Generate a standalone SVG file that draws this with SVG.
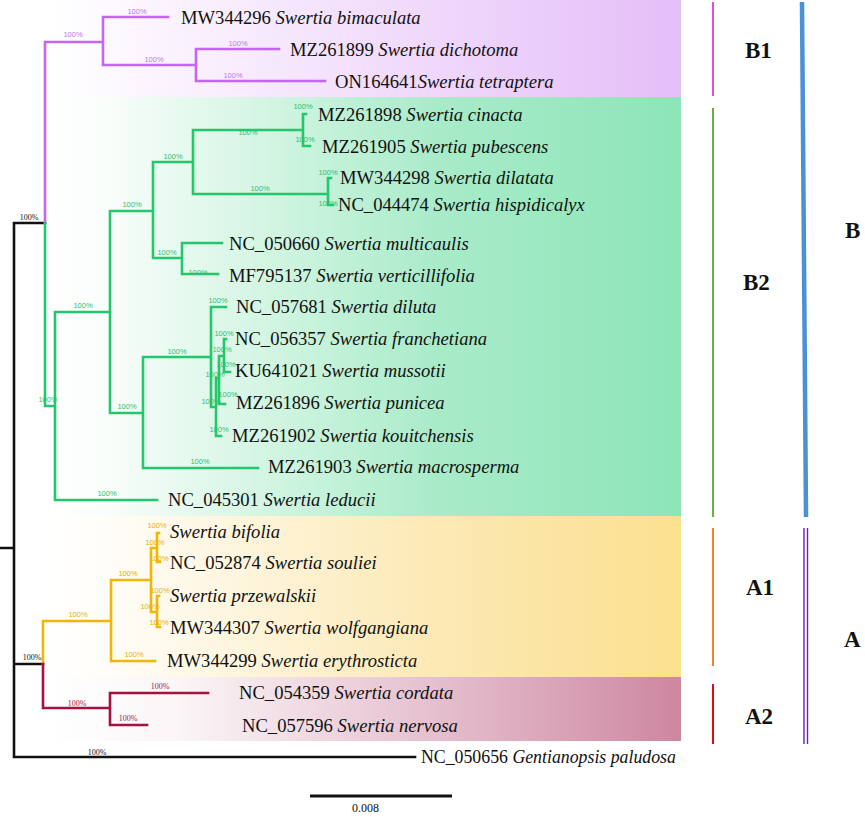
<svg xmlns="http://www.w3.org/2000/svg" width="865" height="817" viewBox="0 0 865 817">
<defs>
<linearGradient id="gB1" x1="48" y1="0" x2="681" y2="0" gradientUnits="userSpaceOnUse"><stop offset="0" stop-color="#ffffff"/><stop offset="0.1" stop-color="#fdf9ff"/><stop offset="0.6" stop-color="#f0d8fb"/><stop offset="1" stop-color="#e4bef8"/></linearGradient>
<linearGradient id="gB2" x1="48" y1="0" x2="681" y2="0" gradientUnits="userSpaceOnUse"><stop offset="0" stop-color="#ffffff"/><stop offset="0.1" stop-color="#f8fdfa"/><stop offset="0.35" stop-color="#d2f5e2"/><stop offset="0.62" stop-color="#a8ebc9"/><stop offset="1" stop-color="#8de5b7"/></linearGradient>
<linearGradient id="gA1" x1="48" y1="0" x2="681" y2="0" gradientUnits="userSpaceOnUse"><stop offset="0" stop-color="#ffffff"/><stop offset="0.1" stop-color="#fffdf7"/><stop offset="0.6" stop-color="#fce9b6"/><stop offset="1" stop-color="#fbe08f"/></linearGradient>
<linearGradient id="gA2" x1="48" y1="0" x2="681" y2="0" gradientUnits="userSpaceOnUse"><stop offset="0" stop-color="#ffffff"/><stop offset="0.2" stop-color="#fbf6f8"/><stop offset="0.6" stop-color="#e6c1d0"/><stop offset="1" stop-color="#cd87a0"/></linearGradient>
</defs>
<style>
.tx{font-family:"Liberation Serif","Times New Roman",serif;font-size:18.6px;fill:#111}
.it{font-style:italic}
.bs{font-family:"Liberation Sans",Arial,sans-serif;font-size:7.5px;text-anchor:middle}
.bk{font-family:"Liberation Serif",serif;font-size:8px;text-anchor:middle;fill:#111}
.cl{font-family:"Liberation Serif","Times New Roman",serif;font-size:23px;font-weight:bold;fill:#111}
.br{fill:none;stroke-width:2.6;stroke-linecap:square}
.pu{stroke:#c466ee}.gr{stroke:#22c86b}.go{stroke:#f2b705}.mr{stroke:#a3133f}.bl{stroke:#111}
.lpu{fill:#b878e6}.lgr{fill:#2cc070}.lgo{fill:#e9b000}.lmr{fill:#a3133f}
</style>
<rect width="865" height="817" fill="#ffffff"/>
<g id="backgrounds">
<rect x="48" y="0" width="633" height="97" fill="url(#gB1)"/>
<rect x="48" y="97" width="633" height="419" fill="url(#gB2)"/>
<rect x="48" y="516" width="633" height="161" fill="url(#gA1)"/>
<rect x="48" y="677" width="633" height="64" fill="url(#gA2)"/>
</g>
<g id="connectors">
<path class="br bl" d="M0,548H14M14,223V757M14,223H45M14,664H43M14,757H415"/>
<path class="br pu" d="M45,223V42H103M103,17V65M103,17H168M103,65H196M196,49V81M196,49H279M196,81H325"/>
<path class="br gr" d="M45,223V406H55M55,312V500M55,312H110M110,211V413M110,211H153M153,162V258M153,162H193M193,130V194M193,130H303M303,114V146M303,114H306M303,146H310M193,194H328M328,178V205M328,178H331M328,205H333M153,258H182M182,243V274M182,243H222M182,274H218M110,413H143M143,357V468M143,468H258M143,357H211M211,307V407M211,307H226M211,407H216M216,378V436M216,436H221M216,378H219M219,356V404M219,404H225M219,356H224M224,339V372M224,339H226M224,372H230M55,500H157"/>
<path class="br go" d="M43,664V621H111M111,580V661M111,661H155M111,580H151M151,548V612M151,548H157M157,533V562M157,533H159M157,562H160M151,612H157M157,596V627M157,596H159M157,627H160"/>
<path class="br mr" d="M43,664V708H110M110,693V725M110,693H208M110,725H147"/>
</g>
<g id="support">
<text class="bk" x="29" y="220">100%</text>
<text class="bk" x="32" y="660">100%</text>
<text class="bk" x="97" y="755">100%</text>
<g class="lpu">
<text class="bs" x="73" y="37">100%</text><text class="bs" x="137" y="14">100%</text><text class="bs" x="154" y="62">100%</text><text class="bs" x="238" y="46">100%</text><text class="bs" x="233" y="78">100%</text>
</g>
<g class="lgr">
<text class="bs" x="303" y="109">100%</text><text class="bs" x="305" y="142">100%</text><text class="bs" x="248" y="135">100%</text><text class="bs" x="173" y="159">100%</text><text class="bs" x="132" y="207">100%</text><text class="bs" x="328" y="175">100%</text><text class="bs" x="328" y="206">100%</text><text class="bs" x="260" y="191">100%</text><text class="bs" x="167" y="255">100%</text><text class="bs" x="198" y="275">100%</text>
<text class="bs" x="83" y="308">100%</text><text class="bs" x="48" y="402">100%</text><text class="bs" x="127" y="409">100%</text><text class="bs" x="177" y="354">100%</text><text class="bs" x="218" y="303">100%</text><text class="bs" x="224" y="336">100%</text><text class="bs" x="222" y="352">100%</text><text class="bs" x="226" y="367">100%</text><text class="bs" x="215" y="377">100%</text><text class="bs" x="228" y="397">100%</text><text class="bs" x="211" y="404">100%</text><text class="bs" x="219" y="432">100%</text><text class="bs" x="200" y="464">100%</text><text class="bs" x="107" y="496">100%</text>
</g>
<g class="lgo">
<text class="bs" x="157" y="528">100%</text><text class="bs" x="155" y="545">100%</text><text class="bs" x="159" y="561">100%</text><text class="bs" x="160" y="593">100%</text><text class="bs" x="150" y="609">100%</text><text class="bs" x="159" y="625">100%</text><text class="bs" x="128" y="576">100%</text><text class="bs" x="78" y="617">100%</text><text class="bs" x="134" y="657">100%</text>
</g>
<g class="lmr">
<text class="bk" x="77" y="706" style="fill:#a3133f">100%</text><text class="bk" x="160" y="689" style="fill:#a3133f">100%</text><text class="bk" x="128" y="721" style="fill:#a3133f">100%</text>
</g>
</g>
<g id="taxa">
<g id="t1"><text class="tx" x="181" y="24">MW344296 <tspan class="it">Swertia bimaculata</tspan></text></g>
<g id="t2"><text class="tx" x="290" y="56">MZ261899 <tspan class="it">Swertia dichotoma</tspan></text></g>
<g id="t3"><text class="tx" x="335" y="88">ON164641<tspan class="it">Swertia tetraptera</tspan></text></g>
<g id="t4"><text class="tx" x="318" y="121">MZ261898 <tspan class="it">Swertia cinacta</tspan></text></g>
<g id="t5"><text class="tx" x="322" y="153">MZ261905 <tspan class="it">Swertia pubescens</tspan></text></g>
<g id="t6"><text class="tx" x="340" y="184">MW344298 <tspan class="it">Swertia dilatata</tspan></text></g>
<g id="t7"><text class="tx" x="338" y="211">NC_044474 <tspan class="it">Swertia hispidicalyx</tspan></text></g>
<g id="t8"><text class="tx" x="229" y="250">NC_050660 <tspan class="it">Swertia multicaulis</tspan></text></g>
<g id="t9"><text class="tx" x="229" y="282">MF795137 <tspan class="it">Swertia verticillifolia</tspan></text></g>
<g id="t10"><text class="tx" x="236" y="313">NC_057681 <tspan class="it">Swertia diluta</tspan></text></g>
<g id="t11"><text class="tx" x="235" y="345">NC_056357 <tspan class="it">Swertia franchetiana</tspan></text></g>
<g id="t12"><text class="tx" x="235" y="377">KU641021 <tspan class="it">Swertia mussotii</tspan></text></g>
<g id="t13"><text class="tx" x="236" y="409">MZ261896 <tspan class="it">Swertia punicea</tspan></text></g>
<g id="t14"><text class="tx" x="232" y="442">MZ261902 <tspan class="it">Swertia kouitchensis</tspan></text></g>
<g id="t15"><text class="tx" x="268" y="473">MZ261903 <tspan class="it">Swertia macrosperma</tspan></text></g>
<g id="t16"><text class="tx" x="168" y="506">NC_045301 <tspan class="it">Swertia leducii</tspan></text></g>
<g id="t17"><text class="tx it" x="170" y="538">Swertia bifolia</text></g>
<g id="t18"><text class="tx" x="170" y="569">NC_052874 <tspan class="it">Swertia souliei</tspan></text></g>
<g id="t19"><text class="tx it" x="170" y="602">Swertia przewalskii</text></g>
<g id="t20"><text class="tx" x="170" y="634">MW344307 <tspan class="it">Swertia wolfgangiana</tspan></text></g>
<g id="t21"><text class="tx" x="167" y="667">MW344299 <tspan class="it">Swertia erythrosticta</tspan></text></g>
<g id="t22"><text class="tx" x="239" y="699">NC_054359 <tspan class="it">Swertia cordata</tspan></text></g>
<g id="t23"><text class="tx" x="242" y="732">NC_057596 <tspan class="it">Swertia nervosa</tspan></text></g>
<g id="t24"><text class="tx" x="421" y="763" style="font-size:17.8px">NC_050656 <tspan class="it">Gentianopsis paludosa</tspan></text></g>
</g>
<g id="clade-B1"><line x1="713" y1="2" x2="713" y2="96" stroke="#e64ccc" stroke-width="2"/><text class="cl" x="745" y="58">B1</text></g>
<g id="clade-B2"><line x1="713" y1="108" x2="713" y2="517" stroke="#6cb044" stroke-width="2"/><text class="cl" x="743" y="290">B2</text></g>
<g id="clade-A1"><line x1="713" y1="528" x2="713" y2="666" stroke="#f08236" stroke-width="2"/><text class="cl" x="746" y="595">A1</text></g>
<g id="clade-A2"><line x1="713" y1="684" x2="713" y2="744" stroke="#d0101c" stroke-width="2"/><text class="cl" x="745" y="724">A2</text></g>
<g id="clade-B"><line x1="802" y1="2" x2="806" y2="517" stroke="#4b91d8" stroke-width="4.5"/><text class="cl" x="845" y="238">B</text></g>
<g id="clade-A"><line x1="804" y1="528" x2="804" y2="744" stroke="#6a25b0" stroke-width="1.4"/><line x1="807.5" y1="528" x2="807.5" y2="744" stroke="#6a25b0" stroke-width="1.4"/><text class="cl" x="844" y="647">A</text></g>
<g id="scale"><line x1="310" y1="796" x2="452" y2="796" stroke="#111" stroke-width="3"/><text x="352" y="812" font-family="Liberation Serif, serif" font-size="12" fill="#111">0.008</text></g>
</svg>
